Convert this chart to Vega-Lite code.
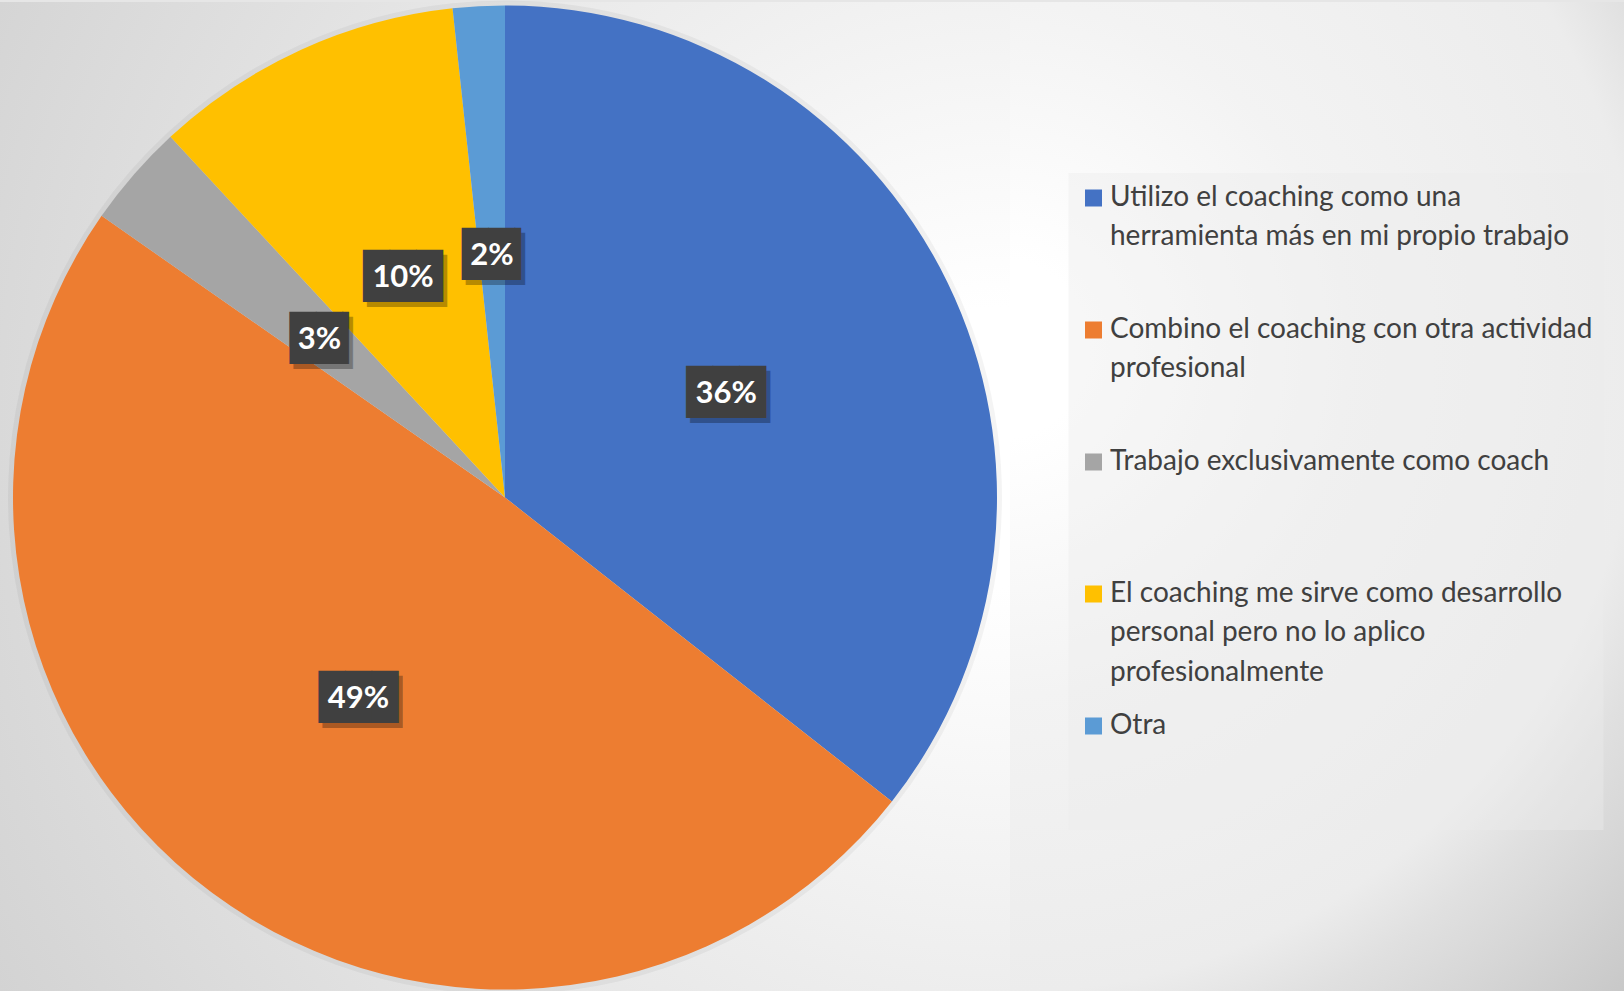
{
  "$schema": "https://vega.github.io/schema/vega-lite/v6.json",
  "padding": 0,
  "spacing": 0,
  "bounds": "flush",
  "background": "#e6e6e6",
  "config": {"view": {"stroke": null}},
  "data": {
    "values": [
      {"respuesta": "Utilizo el coaching como una\nherramienta más en mi propio trabajo", "share": 0.356, "orden": 1},
      {"respuesta": "Combino el coaching con otra actividad\nprofesional", "share": 0.491, "orden": 2},
      {"respuesta": "Trabajo exclusivamente como coach", "share": 0.034, "orden": 3},
      {"respuesta": "El coaching me sirve como desarrollo\npersonal pero no lo aplico\nprofesionalmente", "share": 0.102, "orden": 4},
      {"respuesta": "Otra", "share": 0.017, "orden": 5}
    ]
  },
  "hconcat": [
    {
      "width": 1010,
      "height": 991,
      "view": {
        "stroke": null,
        "fill": {
          "gradient": "radial",
          "x1": 0.99, "y1": 0.45, "r1": 0,
          "x2": 0.99, "y2": 0.45, "r2": 1.15,
          "stops": [
            {"offset": 0, "color": "#ffffff"},
            {"offset": 0.12, "color": "#ffffff"},
            {"offset": 1, "color": "#d2d2d2"}
          ]
        }
      },
      "encoding": {
        "theta": {"field": "share", "type": "quantitative", "stack": true},
        "order": {"field": "orden", "type": "quantitative", "sort": "ascending"}
      },
      "layer": [
        {
          "mark": {"type": "arc", "outerRadius": 497, "fill": "#000000", "opacity": 0.045}
        },
        {
          "mark": {"type": "arc", "outerRadius": 492},
          "encoding": {
            "color": {
              "field": "respuesta",
              "type": "nominal",
              "sort": {"field": "orden", "op": "min"},
              "scale": {"range": ["#4472C4", "#ED7D31", "#A5A5A5", "#FFC000", "#5B9BD5"]},
              "legend": {
                "title": null,
                "orient": "none",
                "legendX": 1068.5,
                "legendY": 171,
                "zindex": 1,
                "padding": 11,
                "symbolType": "square",
                "symbolSize": 289,
                "symbolStrokeWidth": 0,
                "labelFont": "Lato",
                "labelFontSize": 28,
                "labelColor": "#404040",
                "labelOffset": 2.5,
                "labelLimit": 700,
                "labelBaseline": "middle",
                "rowPadding": 25,
                "labelExpr": "slice(split(datum.label + '\\n\\n\\n', '\\n'), 0, 3)",
                "fillColor": "rgba(236,236,236,0.42)",
                "strokeColor": null,
                "encode": {
                  "labels": {"update": {"lineHeight": {"value": 39.3}}}
                }
              }
            }
          }
        },
        {
          "mark": {
            "type": "text",
            "radius": 246,
            "font": "DejaVu Sans Mono",
            "fontSize": 44,
            "align": "left",
            "baseline": "middle",
            "color": "#000000",
            "opacity": 0.28,
            "text": {"expr": "datum.share >= 0.095 ? '███' : '██▎'"},
            "dx": {"expr": "datum.share >= 0.095 ? -35.7 : -25.8"},
            "dy": 9
          }
        },
        {
          "mark": {
            "type": "text",
            "radius": 246,
            "font": "DejaVu Sans Mono",
            "fontSize": 44,
            "align": "left",
            "baseline": "middle",
            "color": "#404040",
            "text": {"expr": "datum.share >= 0.095 ? '███' : '██▎'"},
            "dx": {"expr": "datum.share >= 0.095 ? -39.7 : -29.8"},
            "dy": 4
          }
        },
        {
          "mark": {
            "type": "text",
            "radius": 246,
            "font": "Lato",
            "fontSize": 31,
            "fontWeight": "bold",
            "align": "center",
            "baseline": "middle",
            "color": "#ffffff",
            "dy": 4
          },
          "encoding": {
            "text": {"field": "share", "type": "quantitative", "format": ".0%"}
          }
        }
      ]
    },
    {
      "width": 614,
      "height": 991,
      "view": {
        "stroke": null,
        "fill": {
          "gradient": "radial",
          "x1": 0.18, "y1": 0.35, "r1": 0,
          "x2": 0.18, "y2": 0.35, "r2": 0.905,
          "stops": [
            {"offset": 0, "color": "#ffffff"},
            {"offset": 0.1, "color": "#ffffff"},
            {"offset": 0.387, "color": "#f3f3f3"},
            {"offset": 0.718, "color": "#ececec"},
            {"offset": 0.796, "color": "#e0e0e0"},
            {"offset": 1, "color": "#c8c8c8"}
          ]
        }
      },
      "mark": {"type": "point", "opacity": 0},
      "encoding": {}
    }
  ]
}
